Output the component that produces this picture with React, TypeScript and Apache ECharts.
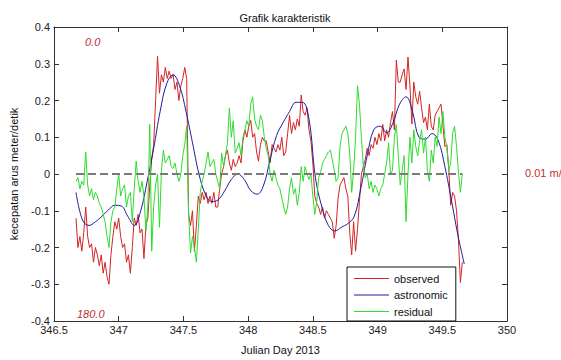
import React, { useEffect, useRef } from "react";
import * as echarts from "echarts";

// Julian day grid for observed & residual (start, step) and for astronomic
const OBS_START = 346.67;
const OBS_STEP = 0.015;
const ASTRO_START = 346.67;
const ASTRO_STEP = 0.05;

const xTicks = [346.5, 347, 347.5, 348, 348.5, 349, 349.5, 350];
const yTicks = [-0.4, -0.3, -0.2, -0.1, 0, 0.1, 0.2, 0.3, 0.4];
const seriesNames = ["observed", "astronomic", "residual"];

const observed = [
  -0.12, -0.2, -0.17, -0.21, -0.16, -0.09, -0.17, -0.2, -0.19, -0.24,
  -0.2, -0.22, -0.25, -0.22, -0.27, -0.24, -0.28, -0.3, -0.22, -0.17,
  -0.13, -0.15, -0.12, -0.17, -0.2, -0.19, -0.24, -0.22, -0.27, -0.2,
  -0.12, -0.14, -0.11, -0.16, -0.15, -0.23, -0.14, -0.12, -0.03, 0.04,
  0.08, 0.2, 0.32, 0.22, 0.27, 0.25, 0.29, 0.26, 0.28, 0.26,
  0.27, 0.23, 0.25, 0.2, 0.24, 0.26, 0.29, 0.26, -0.11, -0.14,
  -0.1, -0.21, -0.14, -0.06, -0.08, -0.05, -0.07, -0.05, -0.08, -0.06,
  -0.08, -0.05, -0.09, -0.09, -0.04, 0.0, 0.02, 0.05, 0.065, 0.03,
  0.01, 0.04, 0.02, 0.03, 0.05, 0.03, 0.09, 0.12, 0.1, 0.13,
  0.146, 0.1, 0.11, 0.06, 0.035, 0.08, 0.1, 0.09, 0.09, 0.06,
  0.03, 0.08, 0.07, 0.06, 0.08, 0.065, 0.1, 0.05, 0.06, 0.11,
  0.16, 0.11, 0.14, 0.12, 0.15, 0.13, 0.215, 0.17, 0.16, 0.18,
  0.12, 0.09, 0.03, -0.06, -0.08, -0.09, -0.11, -0.09, -0.12, -0.1,
  -0.11, -0.12, -0.13, -0.175, -0.14, -0.065, -0.03, -0.02, -0.01, -0.04,
  -0.06, -0.16, -0.22, -0.13, -0.21, -0.15, -0.075, 0.0, 0.02, 0.04,
  0.07, 0.05, 0.08, 0.07, 0.1, 0.08, 0.11, 0.09, 0.135, 0.09,
  0.12, 0.1, 0.14, 0.17, 0.12, 0.31, 0.25, 0.25, 0.27, 0.286,
  0.23, 0.318, 0.24, 0.136, 0.25, 0.21, 0.19, 0.225, 0.18, 0.14,
  0.155, 0.12, 0.19, 0.13, 0.12, 0.16, 0.17, 0.18, 0.19, 0.135,
  0.075, 0.08, 0.015, -0.085, -0.05, -0.06, -0.1, -0.18, -0.295, -0.24,
];

const astronomic = [
  -0.05, -0.125, -0.14, -0.13, -0.115, -0.098, -0.085, -0.087, -0.115, -0.14,
  -0.1, -0.02, 0.07, 0.17, 0.245, 0.27, 0.24, 0.17, 0.085, 0.0,
  -0.055, -0.075, -0.07, -0.045, -0.015, 0.0, -0.015, -0.045, -0.055, -0.03,
  0.04, 0.105, 0.14, 0.17, 0.195, 0.195, 0.15, -0.01, -0.09, -0.14,
  -0.155, -0.145, -0.135, -0.115, -0.04, 0.05, 0.12, 0.13, 0.112, 0.14,
  0.19, 0.21, 0.17, 0.1, 0.095, 0.11, 0.09, 0.02, -0.07, -0.165,
  -0.245,
];

const residual = [
  -0.02, -0.01, -0.04, -0.02, -0.03, 0.06, -0.03, -0.06, -0.04, -0.07,
  -0.05, -0.06, -0.08, -0.09, -0.11, -0.13, -0.17, -0.2, -0.13, -0.1,
  -0.09, -0.04, 0.0, -0.06, -0.04, -0.03, -0.09, -0.06, -0.05, -0.13,
  -0.04, 0.035, -0.02, -0.05, -0.02, -0.06, -0.155, -0.09, 0.135, -0.21,
  -0.09, -0.03, 0.0, -0.145, 0.01, 0.065, 0.03, 0.04, 0.05, 0.02,
  0.015, 0.03, 0.0, -0.02, 0.0, 0.05, 0.08, 0.13, -0.11, -0.215,
  -0.17, -0.2, -0.24, -0.15, -0.05, -0.02, 0.0, 0.03, 0.06, 0.02,
  0.03, 0.04, 0.0, -0.02, -0.04, 0.057, 0.02, 0.05, 0.085, 0.18,
  0.1, 0.145, 0.057, 0.07, 0.085, 0.05, 0.1, 0.12, 0.145, 0.13,
  0.19, 0.21, 0.15, 0.13, 0.12, 0.16, 0.145, 0.1, 0.07, 0.05,
  0.0, -0.02, 0.01, -0.01, -0.03, -0.04, -0.065, -0.09, -0.11, -0.09,
  -0.04, -0.01, -0.055, -0.04, -0.085, -0.05, 0.02, -0.02, 0.02, 0.0,
  -0.015, 0.0, -0.06, -0.11, -0.075, -0.01, 0.005, 0.03, 0.04, 0.05,
  0.06, 0.065, 0.04, 0.01, -0.02, -0.01, 0.075, 0.11, 0.12, 0.13,
  0.11, 0.057, -0.05, 0.01, 0.1, 0.24, 0.19, 0.1, 0.02, -0.01,
  0.0, -0.04, -0.02, -0.05, -0.03, -0.04, -0.06, -0.04, -0.03, 0.0,
  0.03, 0.085, 0.0, 0.01, 0.1, 0.135, 0.05, -0.03, 0.01, 0.05,
  -0.13, 0.0, 0.1, 0.03, 0.12, 0.075, 0.05, 0.09, 0.12, 0.057,
  0.1, 0.01, -0.02, 0.065, 0.03, 0.1, 0.075, 0.155, 0.11, 0.17,
  0.1, 0.075, 0.01, 0.03, 0.11, 0.13, 0.075, 0.005, -0.05, 0.0,
];

const zeroLine = [0, 0];

const FONT = "'Liberation Sans', Arial, sans-serif";

export default function App() {
  const ref = useRef<HTMLDivElement>(null);

  useEffect(() => {
    if (!ref.current) return;
    const chart = echarts.init(ref.current, null, { renderer: "svg" });

    const toPairs = (vals: number[], start: number, step: number) =>
      vals.map((v, i) => [+(start + i * step).toFixed(4), v]);

    const obsData = toPairs(observed, OBS_START, OBS_STEP);
    const astroData = toPairs(astronomic, ASTRO_START, ASTRO_STEP);
    const resData = toPairs(residual, OBS_START, OBS_STEP);
    const lastT = obsData[obsData.length - 1][0];
    const zeroData = [
      [OBS_START, zeroLine[0]],
      [lastT, zeroLine[1]],
    ];

    const axisColor = "#333";
    const labelStyle = { color: "#222", fontSize: 11, fontFamily: FONT };
    const colors = ["#d42424", "#1c1c9c", "#2edc2e"];

    chart.setOption({
      animation: false,
      backgroundColor: "#fff",
      textStyle: { fontFamily: FONT },
      title: {
        text: "Grafik karakteristik",
        left: 280,
        textAlign: "center",
        top: 7,
        textStyle: { fontSize: 11, fontWeight: "normal", color: "#111", fontFamily: FONT },
      },
      grid: { left: 53, right: 54, top: 27, bottom: 30 },
      legend: {
        data: seriesNames.map((n, i) => ({ name: n, itemStyle: { color: colors[i] } })),
        orient: "vertical",
        left: 347,
        top: 267,
        icon: "rect",
        backgroundColor: "#fff",
        borderColor: "#111",
        borderWidth: 1,
        padding: [6, 8, 4, 7],
        itemWidth: 35,
        itemHeight: 1,
        itemGap: 5.5,
        textStyle: { fontSize: 11, color: "#111", fontFamily: FONT },
      },
      xAxis: [
        {
          type: "value",
          min: xTicks[0],
          max: xTicks[xTicks.length - 1],
          interval: 0.5,
          name: "Julian Day 2013",
          nameLocation: "middle",
          nameGap: 23,
          nameTextStyle: { fontSize: 11, color: "#111", fontFamily: FONT },
          axisLine: { show: true, onZero: false, lineStyle: { color: axisColor } },
          axisTick: { inside: true, length: 5, lineStyle: { color: axisColor } },
          axisLabel: { ...labelStyle, margin: 3, formatter: (v: number) => String(v) },
          splitLine: { show: false },
        },
        {
          type: "value",
          position: "top",
          min: xTicks[0],
          max: xTicks[xTicks.length - 1],
          interval: 0.5,
          axisLine: { show: true, onZero: false, lineStyle: { color: axisColor } },
          axisTick: { inside: true, length: 5, lineStyle: { color: axisColor } },
          axisLabel: { show: false },
          splitLine: { show: false },
        },
      ],
      yAxis: [
        {
          type: "value",
          min: yTicks[0],
          max: yTicks[yTicks.length - 1],
          interval: 0.1,
          name: "kecepatan arus meter/detik",
          nameLocation: "middle",
          nameGap: 35,
          nameTextStyle: { fontSize: 11, color: "#111", fontFamily: FONT },
          axisLine: { show: true, onZero: false, lineStyle: { color: axisColor } },
          axisTick: { inside: true, length: 5, lineStyle: { color: axisColor } },
          axisLabel: {
            ...labelStyle,
            margin: 4,
            formatter: (v: number) => {
              const r = Math.round(v * 10) / 10;
              return r === 0 ? "0" : r.toFixed(1);
            },
          },
          splitLine: { show: false },
        },
        {
          type: "value",
          position: "right",
          min: yTicks[0],
          max: yTicks[yTicks.length - 1],
          interval: 0.1,
          axisLine: { show: true, onZero: false, lineStyle: { color: axisColor } },
          axisTick: { inside: true, length: 5, lineStyle: { color: axisColor } },
          axisLabel: { show: false },
          splitLine: { show: false },
        },
      ],
      series: [
        {
          name: seriesNames[0],
          type: "line",
          data: obsData,
          symbol: "none",
          lineStyle: { color: colors[0], width: 1 },
          itemStyle: { color: colors[0] },
          z: 2,
        },
        {
          name: seriesNames[1],
          type: "line",
          data: astroData,
          smooth: 0.4,
          symbol: "none",
          lineStyle: { color: colors[1], width: 1 },
          itemStyle: { color: colors[1] },
          z: 3,
        },
        {
          name: seriesNames[2],
          type: "line",
          data: resData,
          symbol: "none",
          lineStyle: { color: colors[2], width: 1 },
          itemStyle: { color: colors[2] },
          z: 4,
        },
        {
          name: "zero",
          type: "line",
          data: zeroData,
          symbol: "none",
          silent: true,
          lineStyle: { color: "#7a7a7a", width: 2, type: [8, 4] },
          z: 5,
        },
      ],
      graphic: [
        {
          type: "text",
          left: 85,
          top: 36,
          style: { text: "0.0", fill: "#b83030", fontSize: 11, fontStyle: "italic", fontFamily: FONT },
        },
        {
          type: "text",
          left: 77,
          top: 308,
          style: { text: "180.0", fill: "#b83030", fontSize: 11, fontStyle: "italic", fontFamily: FONT },
        },
        {
          type: "text",
          left: 525,
          top: 167,
          style: { text: "0.01 m/s", fill: "#c03030", fontSize: 11, fontFamily: FONT },
        },
      ],
    });

    return () => chart.dispose();
  }, []);

  return (
    <div
      ref={ref}
      style={{ position: "fixed", left: 0, top: 0, width: 561, height: 360 }}
    />
  );
}
